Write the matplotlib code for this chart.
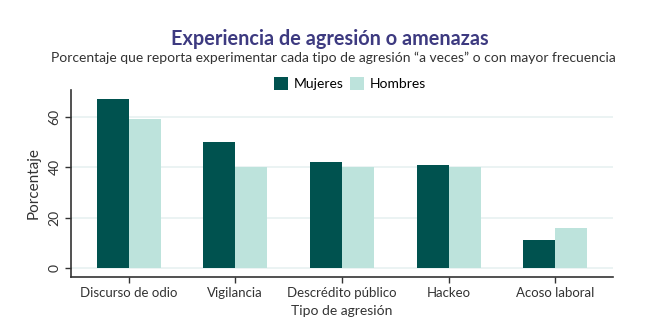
import numpy as np
import matplotlib.pyplot as plt

categorias = ["Discurso de odio", "Vigilancia", "Descrédito público", "Hackeo", "Acoso laboral"]
mujeres = [67, 50, 42, 41, 11]
hombres = [59, 40, 40, 40, 16]
yticks = [0, 20, 40, 60]

col_m = "#00524f"
col_h = "#bde3dc"
txt = "#333333"

plt.rcParams["font.family"] = ["Lato", "DejaVu Sans"]

fig = plt.figure(figsize=(6.6, 3.35), dpi=100)
ax = fig.add_axes([0.1076, 0.1731, 0.8212, 0.5582])

x = np.arange(len(categorias))
w = 0.3
ax.bar(x - w / 2, mujeres, w, color=col_m, label="Mujeres", zorder=2)
ax.bar(x + w / 2, hombres, w, color=col_h, label="Hombres", zorder=2)

ax.set_xlim(-0.54, 4.54)
ax.set_ylim(-3.5, 70.5)
ax.set_yticks(yticks)
ax.set_yticklabels([str(v) for v in yticks], rotation=90, va="center", fontsize=10, color=txt)
ax.set_xticks(x)
ax.set_xticklabels(categorias, fontsize=9.5, color=txt)
ax.yaxis.grid(True, color="#e8f1f1", linewidth=1.2, zorder=0)
ax.tick_params(axis="both", length=4, width=1, color="#333333")
for s in ["top", "right"]:
    ax.spines[s].set_visible(False)
for s in ["left", "bottom"]:
    ax.spines[s].set_linewidth(1.2)
    ax.spines[s].set_color("#333333")

ax.set_ylabel("Porcentaje", fontsize=11, color=txt, labelpad=6)
ax.set_xlabel("Tipo de agresión", fontsize=10, color=txt)

fig.text(0.5, 0.885, "Experiencia de agresión o amenazas", ha="center", va="center",
         fontsize=14.3, fontweight="bold", color="#3d3a80")
fig.text(0.505, 0.827, "Porcentaje que reporta experimentar cada tipo de agresión \u201ca veces\u201d o con mayor frecuencia",
         ha="center", va="center", fontsize=10, color=txt)
fig.legend(loc="center", bbox_to_anchor=(0.53, 0.75), ncol=2, frameon=False, fontsize=10,
           handlelength=1.0, handleheight=1.0, handletextpad=0.4, columnspacing=0.5)

fig.savefig("out.png", dpi=100)
